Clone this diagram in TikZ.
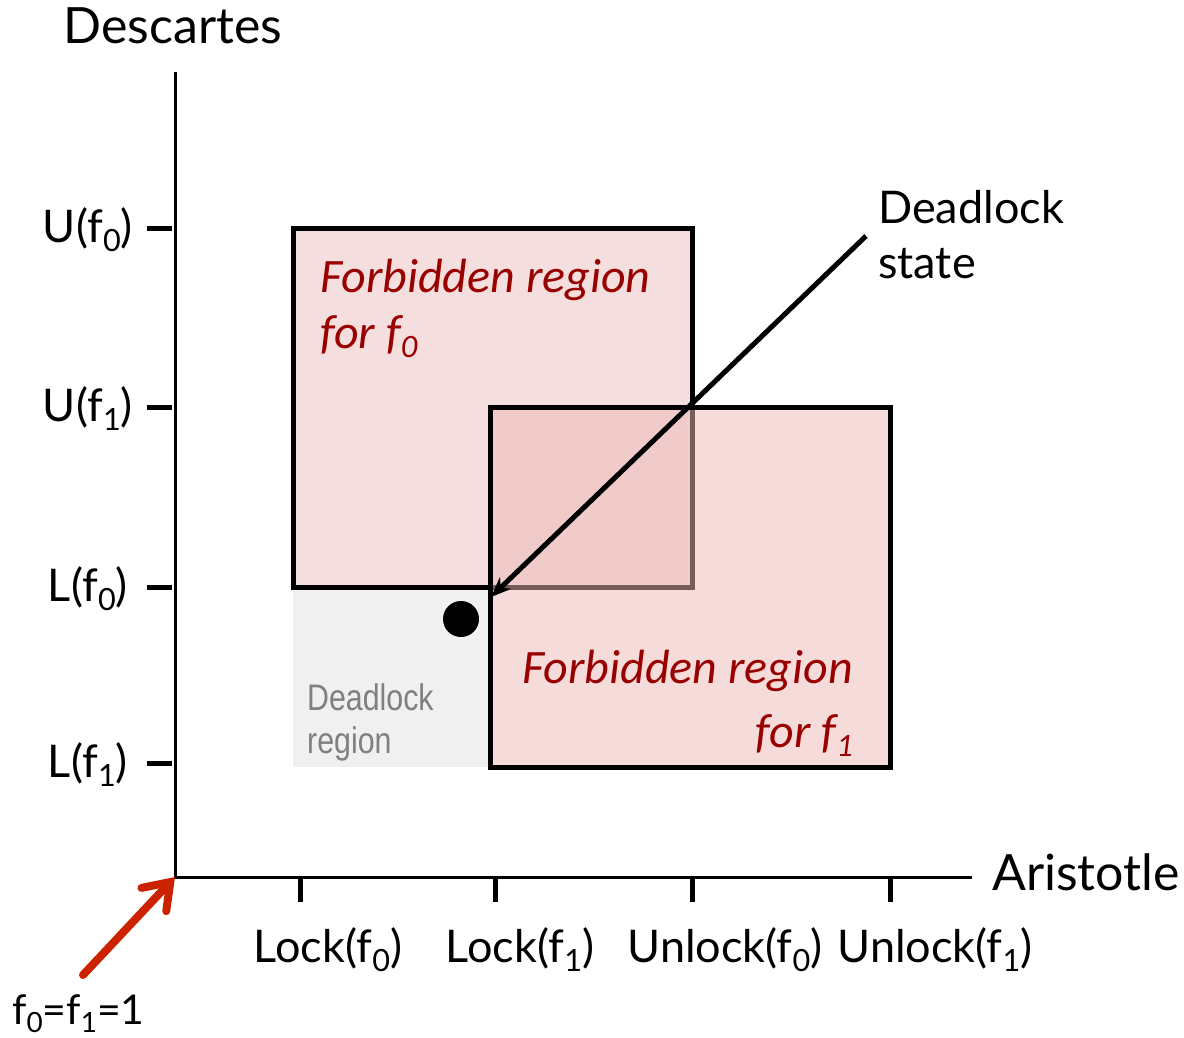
\documentclass[tikz,border=0pt]{standalone}
\usepackage{fontspec}
\setmainfont{Lato}
\newfontfamily\forbfont{Carlito}
\newfontfamily\narrowfont[FakeStretch=0.82]{Liberation Sans}
\usetikzlibrary{arrows.meta}

\definecolor{forbfill}{RGB}{245,222,222}
\definecolor{forbtop}{RGB}{238,184,184}
\definecolor{forbtext}{RGB}{153,0,0}
\definecolor{lockgray}{RGB}{240,240,240}
\definecolor{lockgraytext}{RGB}{128,128,128}
\definecolor{arrowred}{RGB}{204,34,0}

% small lowered index set in the current text font
\newcommand{\lsub}[1]{\raisebox{-0.2em}{\scalebox{0.68}{#1}}}

\tikzset{
  axisline/.style={line width=3pt},
  tickline/.style={line width=5pt},
  boxline/.style={line width=5pt},
  axislabel/.style={inner sep=0pt, font=\fontsize{50}{60}\selectfont},
  ticklabel/.style={inner sep=0pt, font=\fontsize{45}{54}\selectfont},
  forbtextstyle/.style={inner sep=0pt, text=forbtext, font=\forbfont\itshape\fontsize{48}{56}\selectfont},
  graytextstyle/.style={inner sep=0pt, text=lockgraytext, align=left, font=\narrowfont\fontsize{37}{43}\selectfont},
}

\begin{document}
\begin{tikzpicture}[x=1pt,y=-1pt]
\useasboundingbox (0,0) rectangle (1184,1038);

% axes
\coordinate (O) at (175,877);
\coordinate (ytop) at (175,72);
\coordinate (xend) at (972,877);
\draw[axisline] (ytop) -- (O) -- (xend);

% y ticks
\foreach \name/\y in {uf0/228, uf1/407, lf0/587, lf1/763}{
  \coordinate (\name) at (172,\y);
  \draw[tickline] (\name) -- ++(-25,0);
}
% x ticks
\foreach \name/\x in {lk0/300, lk1/495, ul0/692, ul1/890}{
  \coordinate (\name) at (\x,879);
  \draw[tickline] (\name) -- ++(0,23);
}

% deadlock region
\fill[lockgray] (293,587) rectangle (490,767);

% forbidden region for f0
\filldraw[boxline, fill=forbfill] (293,228) rectangle (692,587);
% forbidden region for f1, translucent over the first one
\fill[forbtop, fill opacity=0.5] (490,407) rectangle (890,767);
\draw[boxline] (490,407) rectangle (890,767);

% axis titles
\node[axislabel, anchor=base] (ytitle) at (173,44) {Descartes};
\node[axislabel, anchor=base west] (xtitle) at (992,890) {Aristotle};

% y tick labels
\node[ticklabel, anchor=east] (luf0) at (133,230) {U(f\lsub{0})};
\node[ticklabel, anchor=east] (luf1) at (133,409) {U(f\lsub{1})};
\node[ticklabel, anchor=east] (llf0) at (128,589) {L(f\lsub{0})};
\node[ticklabel, anchor=east] (llf1) at (128,765) {L(f\lsub{1})};

% x tick labels
\node[ticklabel, anchor=base] (llk0) at (328,962) {Lock(f\lsub{0})};
\node[ticklabel, anchor=base] (llk1) at (520,962) {Lock(f\lsub{1})};
\node[ticklabel, anchor=base] (lul0) at (725,962) {Unlock(f\lsub{0})};
\node[ticklabel, anchor=base] (lul1) at (935,962) {Unlock(f\lsub{1})};

% region captions
\node[forbtextstyle, anchor=base west, align=left] (forb0) at (320,348)
  {Forbidden region\\for f\lsub{0}};
\node[forbtextstyle, anchor=base east, align=right,
      font=\forbfont\itshape\fontsize{48}{64}\selectfont] (forb1) at (853,747)
  {Forbidden region\\for f\lsub{1}};
\node[graytextstyle, anchor=base west] (dlregion) at (307,753) {Deadlock\\region};

% deadlock state
\node[axislabel, anchor=base west, align=left,
      font=\fontsize{45}{55}\selectfont] (dstate) at (878,278) {Deadlock\\state};
\coordinate (dsfrom) at (866,236);
\coordinate (dsto) at (491,597);
\draw[line width=5pt, -{Stealth[length=20pt,width=16pt]}] (dsfrom) -- (dsto);

% current state
\fill (461,619) circle (18);

% start point
\node[ticklabel, anchor=base west, font=\fontsize{41}{50}\selectfont] (start) at (12,1024)
  {f\lsub{0}=f\lsub{1}=1};
\coordinate (redfrom) at (83,975);
\draw[arrowred, line width=8pt, line cap=round,
      -{Straight Barb[length=24pt,width=34pt,line cap=round]}] (redfrom) -- (O);
\end{tikzpicture}
\end{document}
